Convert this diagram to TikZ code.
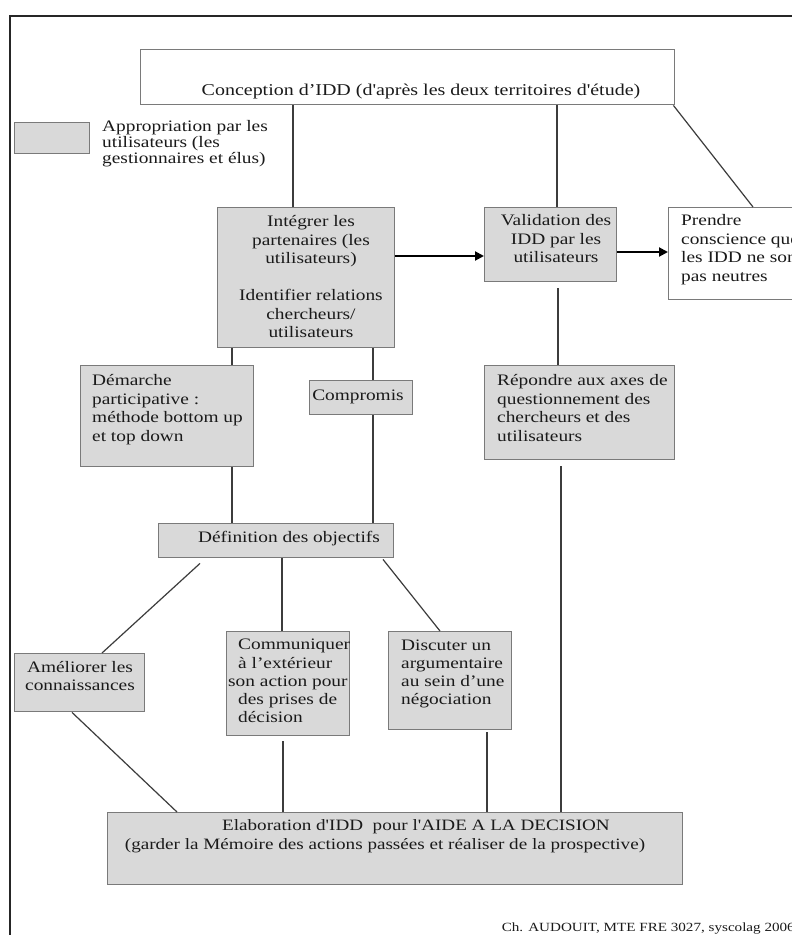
\documentclass[tikz,border=0pt]{standalone}
\usepackage{fontspec}
\setmainfont{Liberation Serif}[FakeStretch=1.21,Ligatures=TeXOff]
\usetikzlibrary{arrows.meta}
\definecolor{boxfill}{HTML}{D9D9D9}
\definecolor{boxline}{HTML}{7A7A7A}
\definecolor{linkcol}{HTML}{3C3C3C}
\definecolor{inkcol}{HTML}{1A1A1A}
\begin{document}
\begin{tikzpicture}[x=1pt,y=-1pt,
  gbox/.style={draw=boxline, fill=boxfill, line width=1.4pt, inner sep=0pt, anchor=north west},
  wbox/.style={gbox, fill=white},
  txt/.style={inner sep=0pt, text=inkcol, font=\fontsize{16}{18.5}\selectfont},
  link/.style={draw=linkcol, line width=1.2pt},
  arr/.style={draw=black, line width=2pt, -{Triangle[length=9pt,width=9pt]}},
  frameline/.style={draw=black!85, line width=2pt}]
\useasboundingbox (0,0) rectangle (792,935);
\clip (0,0) rectangle (792,935);
\fill[white] (0,0) rectangle (792,935);
\draw[frameline] (9.5,940) -- (9.5,16) -- (800,16);

% boxes
\node[wbox, minimum width=534pt, minimum height=55pt] (title) at (140,49) {};
\node[gbox, minimum width=75pt, minimum height=31pt] (leg) at (14,122) {};
\node[gbox, minimum width=177pt, minimum height=140pt] (int) at (217,207) {};
\node[gbox, minimum width=132pt, minimum height=74pt] (val) at (484,207) {};
\node[wbox, minimum width=140pt, minimum height=92pt] (pre) at (668,207) {};
\node[gbox, minimum width=173pt, minimum height=101pt] (dem) at (80,365) {};
\node[gbox, minimum width=103pt, minimum height=34pt] (comp) at (309,380) {};
\node[gbox, minimum width=190pt, minimum height=94pt] (rep) at (484,365) {};
\node[gbox, minimum width=235pt, minimum height=34pt] (def) at (158,523) {};
\node[gbox, minimum width=130pt, minimum height=58pt] (ame) at (14,653) {};
\node[gbox, minimum width=123pt, minimum height=104pt] (com) at (226,631) {};
\node[gbox, minimum width=123pt, minimum height=98pt] (dis) at (388,631) {};
\node[gbox, minimum width=575pt, minimum height=72pt] (ela) at (107,812) {};

% texts (base anchor = baseline of the last line)
\node[txt, anchor=base, font=\fontsize{16.5}{18.5}\selectfont] (titleT) at (421,95) {Conception d’IDD (d'après les deux territoires d'étude)};
\node[txt, anchor=base west, align=left, font=\fontsize{16}{16}\selectfont] (legT) at (102,163.5) {Appropriation par les\\utilisateurs (les\\gestionnaires et élus)};
\node[txt, anchor=base, align=center] (intT) at (311,337.5) {Intégrer les\\partenaires (les\\utilisateurs)\\[18.5pt]Identifier relations\\chercheurs/\\utilisateurs};
\node[txt, anchor=base, align=center] (valT) at (556,262.7) {Validation des\\IDD par les\\utilisateurs};
\node[txt, anchor=base west, align=left] (preT) at (681,281.2) {Prendre\\conscience que\\les IDD ne sont\\pas neutres};
\node[txt, anchor=base west, align=left] (demT) at (92,441.2) {Démarche\\participative :\\méthode bottom up\\et top down};
\node[txt, anchor=base] (compT) at (358,400.7) {Compromis};
\node[txt, anchor=base west, align=left] (repT) at (497,441.2) {Répondre aux axes de\\questionnement des\\chercheurs et des\\utilisateurs};
\node[txt, anchor=base] (defT) at (289,542.7) {Définition des objectifs};
\node[txt, anchor=base, align=center, font=\fontsize{16}{18}\selectfont] (ameT) at (80,690.7) {Améliorer les\\connaissances};
\node[txt, anchor=base west, align=left, font=\fontsize{16}{18.3}\selectfont] (comT) at (238,722.9) {Communiquer\\à l’extérieur\\\hspace*{-10pt}son action pour\\des prises de\\décision};
\node[txt, anchor=base west, align=left, font=\fontsize{16}{18}\selectfont] (disT) at (401,704.7) {Discuter un\\argumentaire\\au sein d’une\\négociation};
\node[txt, anchor=base, align=center, font=\fontsize{15.8}{18.5}\selectfont] (elaT) at (385,849.2) {\hspace*{62pt}Elaboration d'IDD\ \ pour l'AIDE A LA DECISION\\(garder la Mémoire des actions passées et réaliser de la prospective)};
\node[txt, anchor=base east, font=\fontsize{12.5}{15}\selectfont] (foot) at (795,931) {Ch. AUDOUIT, MTE FRE 3027, syscolag 2006};

% connectors
\coordinate (c1) at ([xshift=76pt]int.north west);
\draw[link] (c1 |- title.south) -- (c1);
\coordinate (c2) at ([xshift=73pt]val.north west);
\draw[link] (c2 |- title.south) -- (c2);
\draw[link] ([xshift=-2pt]title.south east) -- ([xshift=85pt]pre.north west);
\coordinate (a1) at ([yshift=-49pt]int.north east);
\draw[arr] (a1) -- (a1 -| val.west);
\coordinate (a2) at ([yshift=-45pt]val.north east);
\draw[arr] (a2) -- (a2 -| pre.west);
\coordinate (c6) at ([xshift=74pt]rep.north west);
\coordinate (c6b) at ([yshift=-6pt]val.south);
\draw[link] (c6) -- (c6 |- c6b);
\coordinate (c7) at ([xshift=152pt]dem.north west);
\draw[link] (c7) -- (c7 |- int.south);
\coordinate (c8) at ([xshift=64pt]comp.north west);
\draw[link] (c8) -- (c8 |- int.south);
\coordinate (c9) at ([xshift=74pt]def.north west);
\draw[link] (c9) -- (c9 |- dem.south);
\coordinate (c10) at ([xshift=215pt]def.north west);
\draw[link] (c10) -- (c10 |- comp.south);
\draw[link] ([xshift=42pt,yshift=-5pt]def.south west) -- ([xshift=88pt]ame.north west);
\coordinate (c12) at ([xshift=56pt]com.north west);
\draw[link] (c12) -- (c12 |- def.south);
\draw[link] ([xshift=225pt,yshift=-1pt]def.south west) -- ([xshift=52pt]dis.north west);
\draw[link] ([xshift=58pt]ame.south west) -- ([xshift=70pt]ela.north west);
\coordinate (c15) at ([xshift=176pt]ela.north west);
\coordinate (c15b) at ([yshift=-5pt]com.south);
\draw[link] (c15) -- (c15 |- c15b);
\coordinate (c16) at ([xshift=380pt]ela.north west);
\coordinate (c16b) at ([yshift=-2pt]dis.south);
\draw[link] (c16) -- (c16 |- c16b);
\coordinate (c17) at ([xshift=454pt]ela.north west);
\coordinate (c17b) at ([yshift=-6pt]rep.south);
\draw[link] (c17) -- (c17 |- c17b);
\end{tikzpicture}
\end{document}
